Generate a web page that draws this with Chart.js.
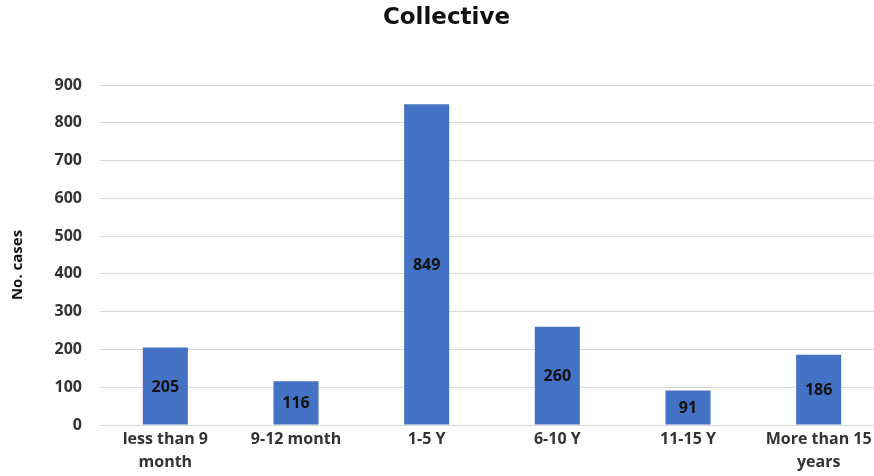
<!DOCTYPE html>
<html>
<head>
<meta charset="utf-8">
<script src="https://cdn.jsdelivr.net/npm/chart.js@4/dist/chart.umd.min.js"></script>
<style>
  html, body { margin: 0; padding: 0; background: #fff; }
  #wrap { width: 874px; height: 476px; overflow: hidden; position: relative; }
  canvas { display: block; }
</style>
</head>
<body>
<div id="wrap"><canvas id="c" width="884" height="476"></canvas></div>
<script>
// Number of cases per duration group
const categories = [
  ["less than 9", "month"],
  "9-12 month",
  "1-5 Y",
  "6-10 Y",
  "11-15 Y",
  ["More than 15", "years"]
];
const cases = [205, 116, 849, 260, 91, 186];
const yTicks = [0, 100, 200, 300, 400, 500, 600, 700, 800, 900];
const yAxisTitle = 'No. cases';

const labelFont = "'Open Sans', 'Liberation Sans', sans-serif";

// Writes each bar's value in the middle of the bar
const centerValues = {
  id: 'centerValues',
  afterDatasetsDraw(chart) {
    const ctx = chart.ctx;
    const meta = chart.getDatasetMeta(0);
    const data = chart.data.datasets[0].data;
    ctx.save();
    ctx.font = "bold 16px " + labelFont;
    ctx.fillStyle = '#111';
    ctx.textAlign = 'center';
    ctx.textBaseline = 'middle';
    meta.data.forEach((bar, i) => {
      const mid = (bar.y + bar.base) / 2;
      ctx.fillText(String(data[i]), bar.x, mid + 1);
    });
    ctx.restore();
  }
};

// Vertical y-axis caption at the left edge
const yCaption = {
  id: 'yCaption',
  afterDraw(chart) {
    const ctx = chart.ctx;
    ctx.save();
    ctx.font = "bold 15px " + labelFont;
    ctx.fillStyle = '#111';
    ctx.textAlign = 'center';
    ctx.textBaseline = 'middle';
    ctx.translate(18, 265);
    ctx.rotate(-Math.PI / 2);
    ctx.fillText(yAxisTitle, 0, 0);
    ctx.restore();
  }
};

new Chart(document.getElementById('c'), {
  type: 'bar',
  data: {
    labels: categories,
    datasets: [{
      data: cases,
      backgroundColor: '#4472C4',
      borderWidth: 0,
      barPercentage: 0.345,
      categoryPercentage: 1.0
    }]
  },
  options: {
    responsive: false,
    devicePixelRatio: 1,
    animation: false,
    layout: { padding: { top: 4, right: 0, bottom: 0, left: 9 } },
    plugins: {
      legend: { display: false },
      tooltip: { enabled: false },
      title: {
        display: true,
        text: 'Collective',
        color: '#111',
        font: { family: "'DejaVu Sans', sans-serif", size: 23, weight: 'bold' },
        padding: { top: 0, bottom: 53.4 }
      }
    },
    scales: {
      x: {
        grid: { display: false, drawTicks: false },
        border: { display: true, color: '#d9d9d9', width: 1 },
        ticks: {
          color: '#333',
          font: { family: labelFont, size: 16, weight: 'bold', lineHeight: 1.45 },
          padding: 2.4,
          maxRotation: 0,
          autoSkip: false
        },
        afterFit(scale) { scale.height = 51; }
      },
      y: {
        min: 0,
        max: 900,
        afterBuildTicks(scale) { scale.ticks = yTicks.map(v => ({ value: v })); },
        grid: { color: '#d9d9d9', lineWidth: 1, drawTicks: false },
        border: { display: false },
        ticks: {
          color: '#333',
          font: { family: labelFont, size: 16, weight: 'bold' },
          padding: 18
        },
        afterFit(scale) { scale.width = 91; }
      }
    }
  },
  plugins: [centerValues, yCaption]
});
</script>
</body>
</html>
